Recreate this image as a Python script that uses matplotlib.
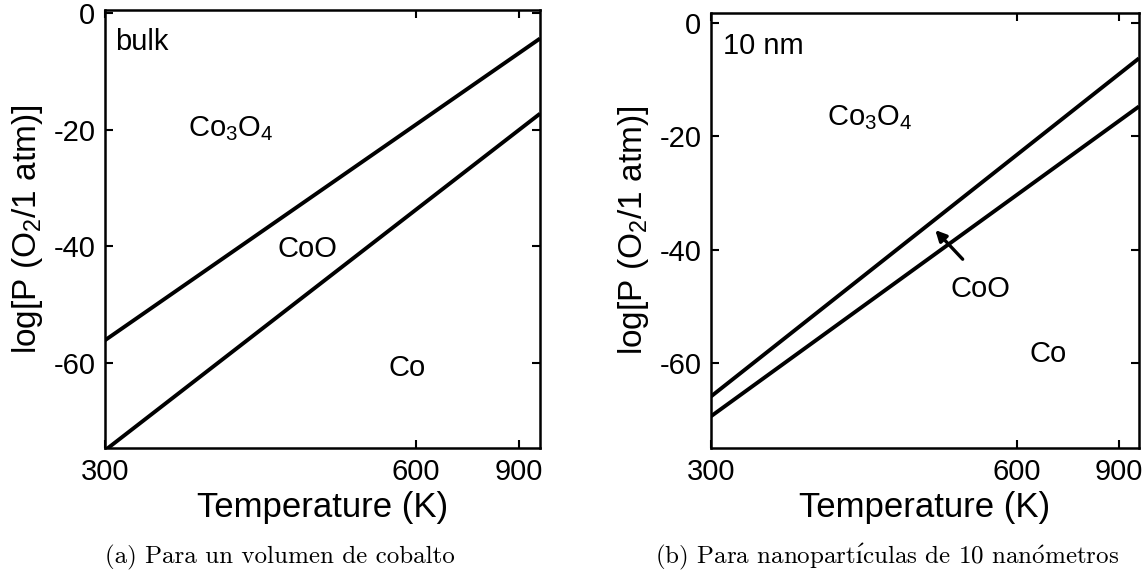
import numpy as np
import matplotlib
matplotlib.use("Agg")
import matplotlib.pyplot as plt

plt.rcParams['font.family'] = ['Liberation Sans', 'DejaVu Sans']
plt.rcParams['mathtext.fontset'] = 'custom'
plt.rcParams['mathtext.rm'] = 'Liberation Sans'
plt.rcParams['mathtext.default'] = 'regular'
plt.rcParams['axes.unicode_minus'] = False

# phase boundaries, log P(O2) vs temperature
temps = [300, 1000]
bulk_co3o4_coo = [-56.1, -4.3]
bulk_coo_co = [-75.0, -17.2]
nano_co3o4_coo = [-65.9, -6.2]
nano_coo_co = [-69.4, -14.7]

xticks = [300, 600, 900]
yticks = [0, -20, -40, -60]
# cmr10 has no accented glyphs, so the accents go through mathtext
captions = ["(a) Para un volumen de cobalto",
            r"(b) Para nanopart$\acute{\imath}$culas de 10 nan$\acute{\rm o}$metros"]


def inv_t(t):
    with np.errstate(divide='ignore', invalid='ignore'):
        return -1.0 / np.asarray(t, dtype=float)


def setup(ax, ylim):
    ax.set_xscale('function', functions=(inv_t, inv_t))
    ax.set_xlim(300, 1000)
    ax.set_ylim(*ylim)
    ax.set_xticks(xticks)
    ax.set_xticklabels([str(t) for t in xticks])
    ax.xaxis.set_minor_locator(matplotlib.ticker.NullLocator())
    ax.set_yticks(yticks)
    ax.tick_params(direction='in', top=True, right=True, length=6, width=1.5,
                   labelsize=21, pad=7)
    for s in ax.spines.values():
        s.set_linewidth(1.8)
    ax.set_xlabel("Temperature (K)", fontsize=25, labelpad=4)
    ax.set_ylabel("log[P (O$_2$/1 atm)]", fontsize=24, labelpad=6)


fig = plt.figure(figsize=(11.44, 5.73), dpi=100)
W, H = 1144, 573
ax1 = fig.add_axes([105 / W, 1 - 448 / H, 435 / W, 438 / H])
ax2 = fig.add_axes([711 / W, 1 - 448 / H, 428 / W, 435 / H])

setup(ax1, (-74.6, 0.6))
ax1.plot(temps, bulk_co3o4_coo, color='black', lw=2.8, solid_capstyle='butt')
ax1.plot(temps, bulk_coo_co, color='black', lw=2.8, solid_capstyle='butt')
ax1.text(0.023, 0.909, "bulk", transform=ax1.transAxes, fontsize=21)
ax1.text(0.19, 0.712, "Co$_3$O$_4$", transform=ax1.transAxes, fontsize=21)
ax1.text(0.396, 0.436, "CoO", transform=ax1.transAxes, fontsize=21)
ax1.text(0.652, 0.164, "Co", transform=ax1.transAxes, fontsize=21)

setup(ax2, (-75.0, 1.8))
ax2.plot(temps, nano_co3o4_coo, color='black', lw=2.8, solid_capstyle='butt')
ax2.plot(temps, nano_coo_co, color='black', lw=2.8, solid_capstyle='butt')
ax2.text(0.028, 0.906, "10 nm", transform=ax2.transAxes, fontsize=21)
ax2.text(0.271, 0.742, "Co$_3$O$_4$", transform=ax2.transAxes, fontsize=21)
ax2.text(0.559, 0.347, "CoO", transform=ax2.transAxes, fontsize=21)
ax2.text(0.744, 0.198, "Co", transform=ax2.transAxes, fontsize=21)
ax2.annotate("", xy=(0.524, 0.501), xytext=(0.588, 0.434),
             xycoords='axes fraction', textcoords='axes fraction',
             arrowprops=dict(arrowstyle='-|>', color='black', lw=2.4,
                             mutation_scale=16, shrinkA=0, shrinkB=0))

fig.text(280 / W, 1 - 557 / H, captions[0], ha='center', va='center',
         fontsize=18, family=['cmr10', 'DejaVu Serif'], math_fontfamily='cm')
fig.text(887 / W, 1 - 557 / H, captions[1], ha='center', va='center',
         fontsize=18, family=['cmr10', 'DejaVu Serif'], math_fontfamily='cm')

fig.savefig("out.png", dpi=100)
